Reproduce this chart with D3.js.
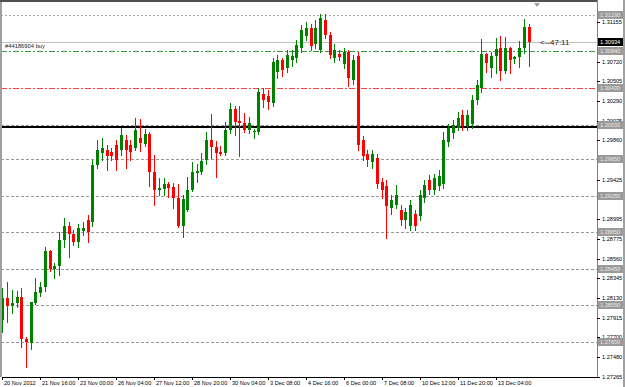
<!DOCTYPE html>
<html><head><meta charset="utf-8">
<script src="https://cdn.jsdelivr.net/npm/d3@7"></script>
<style>body{margin:0;background:#fff}svg{display:block}text{font-family:"Liberation Sans",Arial,sans-serif}</style>
</head><body><svg id="c" width="625" height="387"></svg>
<script>
// EURUSD H4 candles (bar 0 = 20 Nov 2012 08:00)
const open = [
1.27889,1.28130,1.28042,1.28075,1.28141,1.27680,1.27637,1.28075,1.28185,1.28250,
1.28645,1.28447,1.28480,1.28766,1.28919,1.28831,1.28744,1.28864,1.28985,1.28963,
1.29587,1.29719,1.29752,1.29730,1.29807,1.29752,1.29862,1.29807,1.29774,1.29883,
1.29818,1.29927,1.29511,1.29314,1.29324,1.29379,1.29346,1.29226,1.28919,1.29094,
1.29314,1.29500,1.29511,1.29642,1.29862,1.29785,1.29730,1.29719,1.29971,1.30201,
1.30070,1.30048,1.29971,1.29949,1.29949,1.30366,1.30344,1.30267,1.30607,1.30738,
1.30650,1.30738,1.30760,1.30870,1.31001,1.31089,1.30914,1.30848,1.31177,1.31012,
1.30760,1.30804,1.30694,1.30826,1.30519,1.30782,1.29862,1.29708,1.29620,1.29664,
1.29401,1.29357,1.29116,1.29149,1.29094,1.28985,1.28919,1.29050,1.29028,1.29226,
1.29423,1.29314,1.29357,1.29379,1.29840,1.29938,1.29993,1.30135,1.30015,1.30037,
1.30300,1.30431,1.30804,1.30650,1.30782,1.30870,1.30618,1.30870,1.30749,1.30771,
1.30870,1.31100];
const high = [
1.28239,1.28305,1.28218,1.28207,1.28239,1.27702,1.28090,1.28349,1.28305,1.28689,
1.28656,1.28513,1.28853,1.29006,1.28963,1.28875,1.28941,1.28963,1.29039,1.29642,
1.29862,1.29883,1.29807,1.29774,1.29862,1.29993,1.29916,1.29862,1.30102,1.30091,
1.29982,1.29949,1.29697,1.29445,1.29445,1.29401,1.29390,1.29379,1.29259,1.29456,
1.29620,1.29598,1.29719,1.29949,1.30146,1.29851,1.29796,1.30059,1.30267,1.30234,
1.30234,1.30157,1.30113,1.29982,1.30431,1.30431,1.30410,1.30760,1.30793,1.30760,
1.30848,1.30848,1.30958,1.31122,1.31155,1.31133,1.31177,1.31242,1.31242,1.31045,
1.30914,1.30848,1.30870,1.30848,1.30793,1.30826,1.29905,1.29752,1.29752,1.29708,
1.29445,1.29423,1.29259,1.29368,1.29149,1.29116,1.29204,1.29094,1.29314,1.29423,
1.29478,1.29489,1.29533,1.29949,1.30037,1.30081,1.30168,1.30190,1.30190,1.30355,
1.30519,1.30968,1.30815,1.30826,1.30979,1.31001,1.30990,1.30881,1.30782,1.30947,
1.31187,1.31133];
const low = [
1.27757,1.27867,1.27965,1.28031,1.27593,1.27373,1.27571,1.28064,1.28152,1.28207,
1.28426,1.28349,1.28382,1.28689,1.28579,1.28711,1.28689,1.28820,1.28744,1.28919,
1.29554,1.29642,1.29533,1.29642,1.29533,1.29697,1.29554,1.29642,1.29752,1.29741,
1.29796,1.29357,1.29149,1.29259,1.29259,1.29237,1.29116,1.28908,1.28798,1.29083,
1.29303,1.29401,1.29489,1.29598,1.29664,1.29456,1.29697,1.29697,1.29938,1.29916,
1.29686,1.29949,1.29938,1.29883,1.29927,1.30223,1.30201,1.30234,1.30541,1.30563,
1.30607,1.30672,1.30716,1.30826,1.30958,1.30848,1.30870,1.30826,1.30979,1.30760,
1.30716,1.30738,1.30650,1.30453,1.30475,1.29752,1.29642,1.29576,1.29554,1.29335,
1.29226,1.28787,1.29050,1.29116,1.28930,1.28897,1.28875,1.28875,1.28985,1.29182,
1.29270,1.29270,1.29314,1.29335,1.29796,1.29883,1.29971,1.29971,1.29971,1.29993,
1.30256,1.30388,1.30607,1.30552,1.30596,1.30519,1.30596,1.30596,1.30705,1.30661,
1.30815,1.30672];
const close = [
1.28130,1.28042,1.28075,1.28141,1.27680,1.27648,1.28086,1.28196,1.28250,1.28645,
1.28447,1.28480,1.28766,1.28919,1.28831,1.28744,1.28897,1.28897,1.28853,1.29587,
1.29752,1.29774,1.29686,1.29686,1.29642,1.29916,1.29752,1.29730,1.29971,1.29829,
1.29927,1.29511,1.29314,1.29335,1.29379,1.29335,1.29226,1.28919,1.29215,1.29314,
1.29511,1.29522,1.29631,1.29862,1.29785,1.29719,1.29708,1.29971,1.30201,1.30059,
1.30048,1.29971,1.30048,1.29960,1.30388,1.30300,1.30278,1.30716,1.30738,1.30629,
1.30793,1.30782,1.30903,1.31067,1.31089,1.30892,1.31089,1.31198,1.31012,1.30793,
1.30848,1.30771,1.30826,1.30541,1.30738,1.29807,1.29686,1.29642,1.29708,1.29379,
1.29314,1.29138,1.29204,1.29259,1.28985,1.29072,1.29149,1.28919,1.29259,1.29368,
1.29314,1.29445,1.29467,1.29862,1.29993,1.30026,1.30102,1.30015,1.30135,1.30300,
1.30464,1.30804,1.30705,1.30782,1.30859,1.30618,1.30870,1.30738,1.30771,1.30870,
1.31100,1.30934];

const timeLabels = ["20 Nov 2012","21 Nov 16:00","23 Nov 00:00","26 Nov 04:00","27 Nov 12:00","28 Nov 20:00","30 Nov 04:00","3 Dec 08:00","4 Dec 16:00","6 Dec 00:00","7 Dec 08:00","10 Dec 12:00","11 Dec 20:00","13 Dec 04:00"];
const timeLabelBars = [0,8,16,24,32,40,48,56,64,72,80,88,96,104];
// price-scale labels that are visible (others are covered by level boxes)
const priceTicks = [1.27265,1.27480,1.27700,1.27915,1.28130,1.28345,1.28560,1.28775,1.28995,1.29425,1.29860,1.30075,1.30290,1.30505,1.30720,1.31155];
const levelPrices = [1.31230,1.30840,1.30430,1.30030,1.29650,1.29250,1.28850,1.28450,1.28050,1.27650];
const levelKinds  = ["dot","buy","stop","dash","dash","dash","dash","dash","dash","dash"];
const keyLevel = 1.30000;
const bid = 1.30934;
const orderText = "#44186904 buy";
const timerText = "<--47:11";

const svg = d3.select("#c");
const W = 625, H = 387, plotR = 597, plotB = 377;
svg.append("rect").attr("width",W).attr("height",H).attr("fill","#fff");

const x = d3.scaleLinear().domain([0, 111]).range([2.3, 528.7]);
const y = d3.scaleLinear().domain([1.27265, 1.31155]).range([377, 22]);

const g = svg.append("g").attr("shape-rendering","crispEdges");
const py = p => Math.round(y(p)) + 0.5;

const styles = {
  dot:  {stroke:"#a8a8a8", dash:"2,2", w:1},
  dash: {stroke:"#999999", dash:"3,2", w:1},
  buy:  {stroke:"#3c9a3c", dash:"6,2,2,2", w:1},
  stop: {stroke:"#ff4040", dash:"6,2,2,2", w:1}
};
levelPrices.forEach((p,k)=>{
  const s = styles[levelKinds[k]];
  g.append("line").attr("x1",1).attr("x2",plotR).attr("y1",py(p)).attr("y2",py(p))
   .attr("stroke",s.stroke).attr("stroke-width",s.w).attr("stroke-dasharray",s.dash);
});
g.append("line").attr("x1",1).attr("x2",plotR).attr("y1",py(bid)).attr("y2",py(bid)).attr("stroke","#c0c0c0");
g.append("line").attr("x1",1).attr("x2",plotR).attr("y1",Math.round(y(keyLevel))).attr("y2",Math.round(y(keyLevel)))
 .attr("stroke","#000").attr("stroke-width",2);

// candles
const idx = d3.range(open.length);
const up = i => close[i] >= open[i];
g.selectAll("line.w").data(idx).join("line").attr("class","w")
  .attr("x1",i=>Math.round(x(i))+0.5).attr("x2",i=>Math.round(x(i))+0.5)
  .attr("y1",i=>Math.round(y(high[i]))).attr("y2",i=>Math.round(y(low[i]))+1)
  .attr("stroke",i=>up(i)?"#008000":"#ff0000");
g.selectAll("rect.b").data(idx).join("rect").attr("class","b")
  .attr("x",i=>Math.round(x(i))-1).attr("width",3)
  .attr("y",i=>Math.round(y(Math.max(open[i],close[i]))))
  .attr("height",i=>Math.max(1,Math.round(y(Math.min(open[i],close[i])))-Math.round(y(Math.max(open[i],close[i])))))
  .attr("fill",i=>up(i)?"#008000":"#ff0000");

svg.append("text").attr("x",5).attr("y",y(1.30840)-2.5).attr("font-size",5.8).attr("fill","#222").text(orderText);
svg.append("text").attr("x",540).attr("y",y(bid)+3).attr("font-size",8).attr("fill","#1a1a1a").text(timerText);
svg.append("path").attr("d","M534,3 L540,3 L537,7 Z").attr("fill","#a0a0a0");

// frame
g.append("rect").attr("x",0).attr("y",0).attr("width",2).attr("height",plotB).attr("fill","#a0a0a0");
g.append("rect").attr("x",0).attr("y",0).attr("width",plotR).attr("height",2).attr("fill","#505050");
g.append("line").attr("x1",2).attr("x2",plotR+1).attr("y1",plotB+0.5).attr("y2",plotB+0.5).attr("stroke","#000");
g.append("line").attr("x1",plotR+0.5).attr("x2",plotR+0.5).attr("y1",0).attr("y2",plotB+1).attr("stroke","#808080");
g.append("rect").attr("x",623).attr("y",0).attr("width",2).attr("height",H).attr("fill","#a0a0a0");

// price axis
const ya = svg.append("g");
priceTicks.forEach(p=>{
  ya.append("line").attr("x1",plotR).attr("x2",plotR+3).attr("y1",py(p)).attr("y2",py(p)).attr("stroke","#000").attr("shape-rendering","crispEdges");
  ya.append("text").attr("x",602).attr("y",y(p)+2).attr("font-size",5.6).attr("fill","#000").text(p.toFixed(5));
});
const boxes = levelPrices.map(p=>({p, bg:"#9a9a9a", fg:"#e8e8e8"})).concat([{p:bid, bg:"#000", fg:"#fff"}]);
boxes.forEach(b=>{
  ya.append("rect").attr("x",598).attr("y",Math.round(y(b.p))-4).attr("width",25).attr("height",8).attr("fill",b.bg).attr("shape-rendering","crispEdges");
  ya.append("text").attr("x",600).attr("y",y(b.p)+2).attr("font-size",5.6).attr("fill",b.fg).text(b.p.toFixed(5));
});

// time axis
const xa = svg.append("g");
timeLabelBars.forEach((bi,k)=>{
  const xx = Math.round(x(bi))+0.5;
  xa.append("line").attr("x1",xx).attr("x2",xx).attr("y1",plotB).attr("y2",plotB+3).attr("stroke","#000").attr("shape-rendering","crispEdges");
  xa.append("text").attr("x",xx+1.5).attr("y",384.5).attr("font-size",5.6).attr("fill","#000").text(timeLabels[k]);
});
</script></body></html>
